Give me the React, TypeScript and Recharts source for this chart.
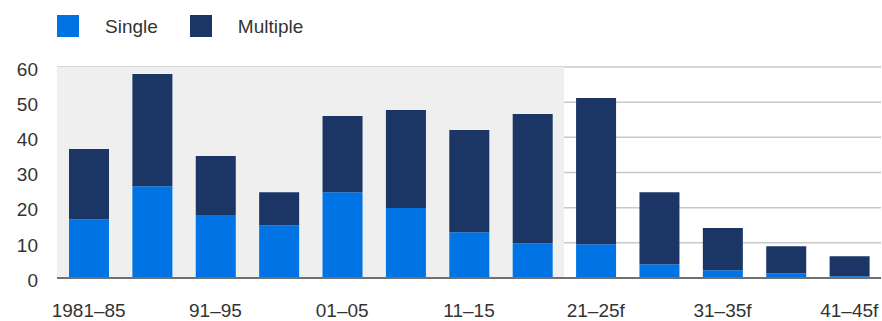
import { BarChart, Bar, XAxis, YAxis, CartesianGrid, ReferenceArea } from 'recharts';

const periods = [
  '1981–85', '86–90', '91–95', '96–00', '01–05', '06–10', '11–15', '16–20',
  '21–25f', '26–30f', '31–35f', '36–40f', '41–45f',
];
const singleValues = [16.7, 26.1, 17.9, 15.0, 24.4, 19.9, 13.0, 9.9, 9.6, 3.9, 2.2, 1.3, 0.5];
const multipleValues = [20.0, 31.9, 16.8, 9.4, 21.7, 27.9, 29.1, 36.7, 41.6, 20.5, 12.0, 7.7, 5.7];
const yTicks = [0, 10, 20, 30, 40, 50, 60];

const SINGLE_COLOR = '#0074e4';
const MULTIPLE_COLOR = '#1b3664';
const FONT = '"Liberation Sans", Arial, sans-serif';

const data = periods.map((period, i) => ({
  period,
  single: singleValues[i],
  multiple: multipleValues[i],
}));

const legendItems = [
  { label: 'Single', color: SINGLE_COLOR },
  { label: 'Multiple', color: MULTIPLE_COLOR },
];

export default function App() {
  return (
    <div style={{ position: 'absolute', left: 0, top: 0, width: 882, height: 321, fontFamily: FONT, background: '#fff' }}>
      {/* legend sits above the plot */}
      <div style={{ position: 'absolute', left: 57, top: 15, height: 22, display: 'flex', alignItems: 'center' }}>
        {legendItems.map(item => (
          <div key={item.label} style={{ display: 'flex', alignItems: 'center', marginRight: 32 }}>
            <span style={{ width: 22, height: 22, background: item.color, display: 'inline-block' }}></span>
            <span style={{ marginLeft: 26, fontSize: 19, lineHeight: '22px', color: '#333', position: 'relative', top: 1 }}>{item.label}</span>
          </div>
        ))}
      </div>
      <BarChart
        width={882}
        height={321}
        data={data}
        margin={{ top: 67, right: 1, left: 0, bottom: 0 }}
      >
        <ReferenceArea
          x1="1981–85"
          x2="16–20"
          y1={0}
          y2={60}
          fill="#efefef"
          fillOpacity={1}
          stroke="none"
        />
        <CartesianGrid vertical={false} stroke="#c8c8c8" strokeWidth={1.5} />
        <XAxis
          dataKey="period"
          interval={1}
          tickLine={false}
          tickMargin={20}
          axisLine={{ stroke: '#707070', strokeWidth: 2 }}
          tick={{ fill: '#333', fontSize: 19, fontFamily: FONT }}
          height={43}
        />
        <YAxis
          domain={[0, 60]}
          ticks={yTicks}
          width={57}
          axisLine={false}
          tickLine={false}
          tickMargin={13}
          tick={{ fill: '#333', fontSize: 19, fontFamily: FONT, dy: 2 }}
        />
        <Bar dataKey="single" stackId="a" fill={SINGLE_COLOR} barSize={40} isAnimationActive={false} />
        <Bar dataKey="multiple" stackId="a" fill={MULTIPLE_COLOR} barSize={40} isAnimationActive={false} />
      </BarChart>
    </div>
  );
}
